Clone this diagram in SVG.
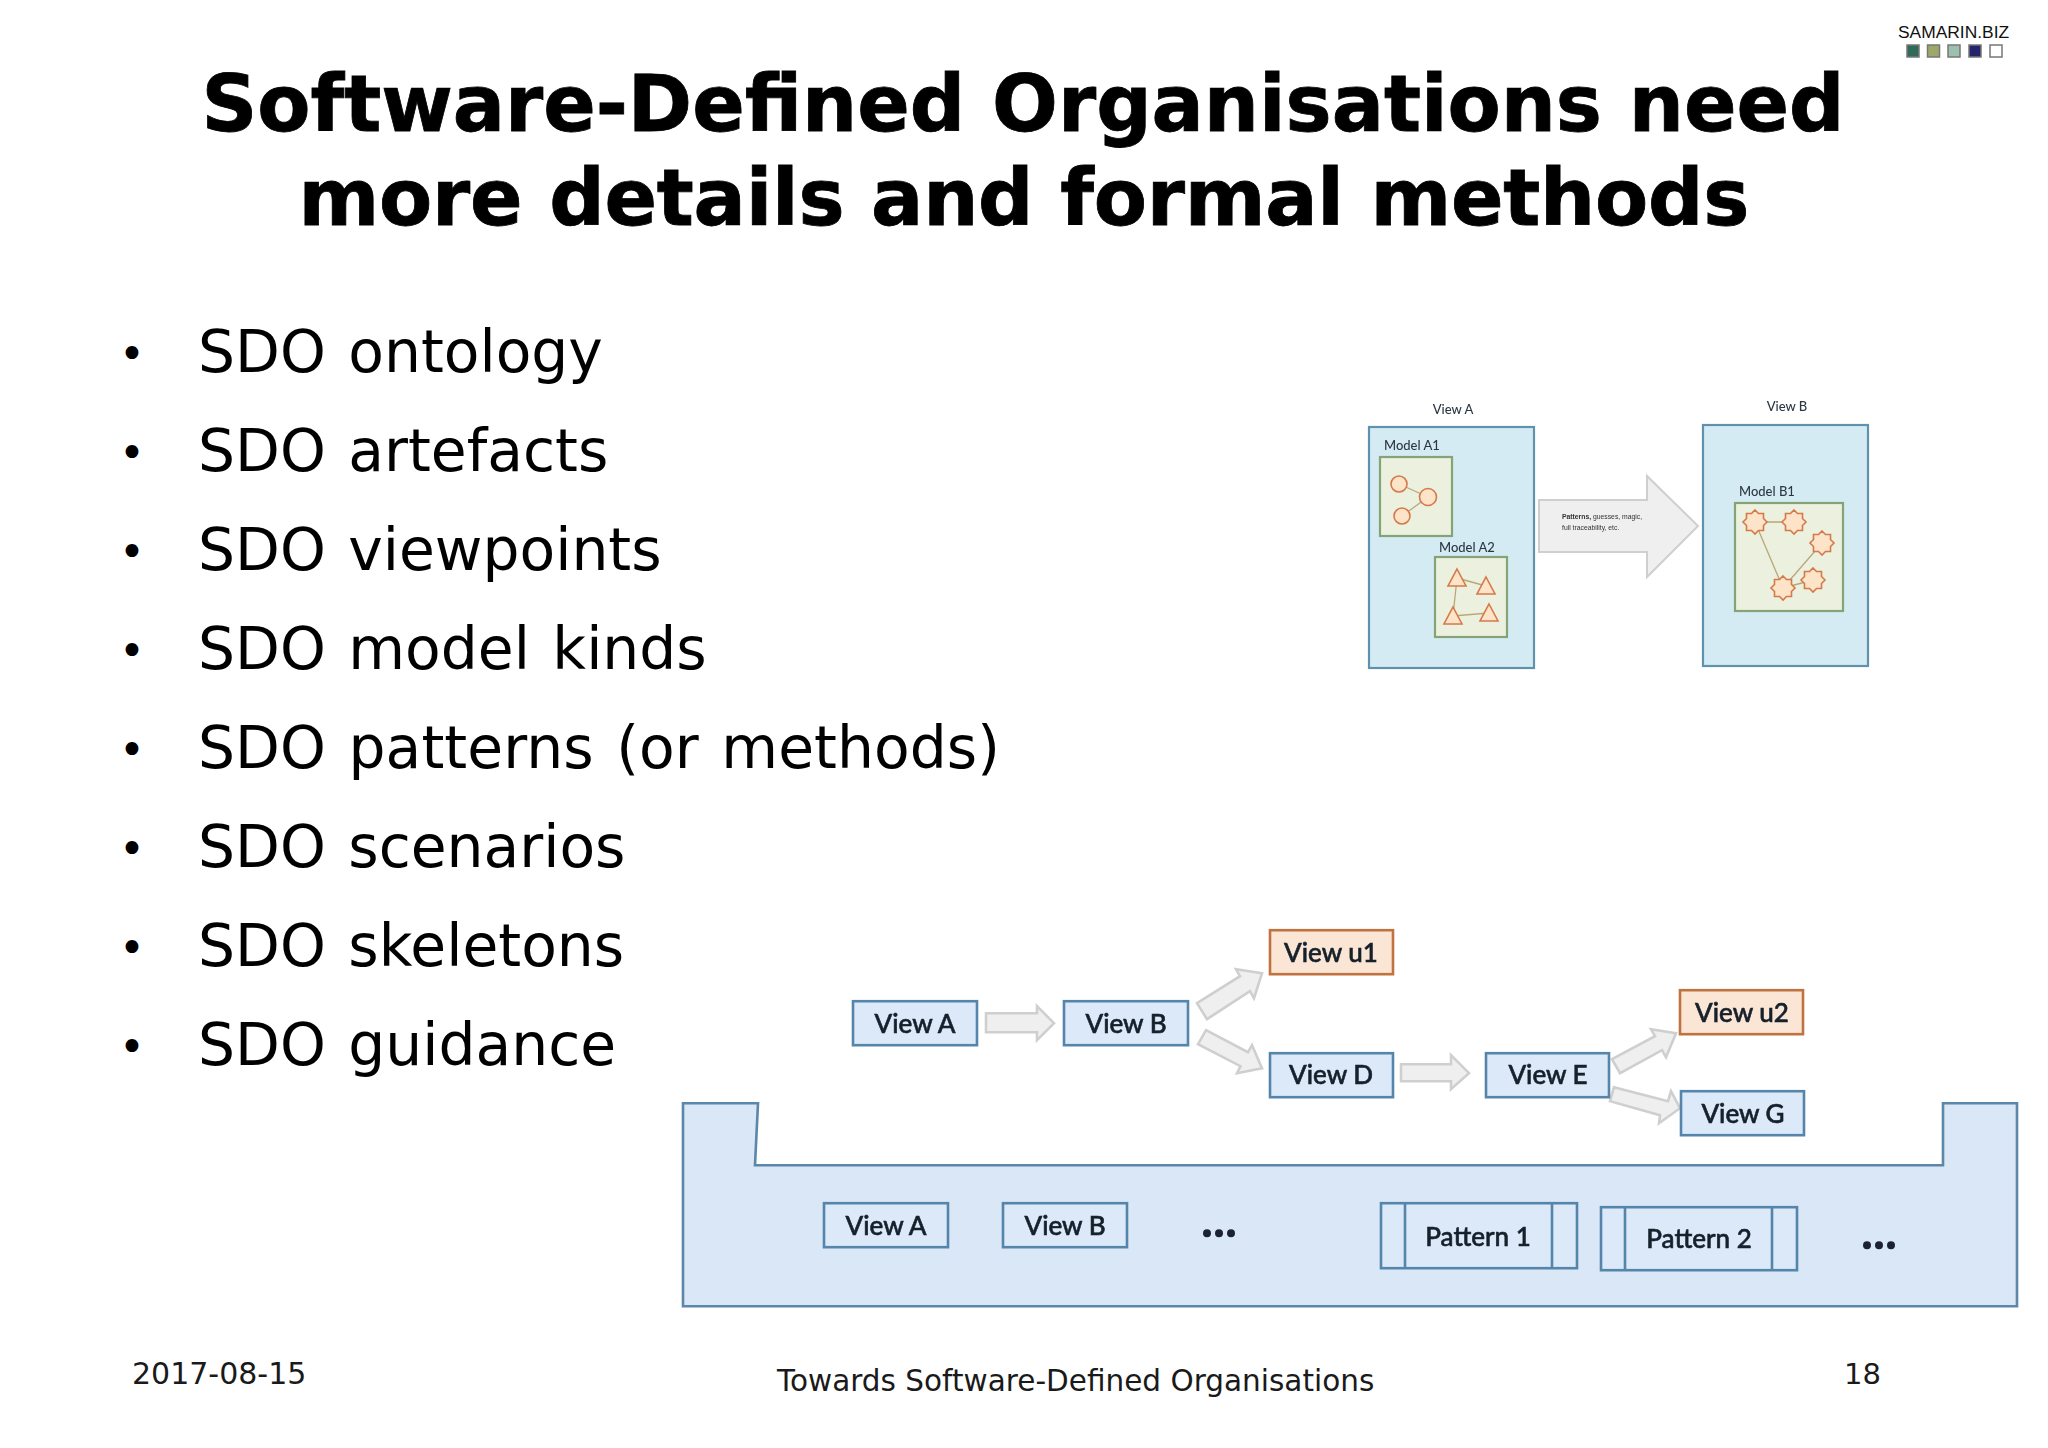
<svg xmlns="http://www.w3.org/2000/svg" width="2048" height="1448" viewBox="0 0 2048 1448">
<defs>
<style>
.title{font:bold 77.500px "DejaVu Sans",sans-serif;fill:#000;text-anchor:middle;stroke:#000;stroke-width:.8}
.bul{font:58.300px "DejaVu Sans",sans-serif;fill:#000;word-spacing:4px}
.dotb{font:44px "DejaVu Sans",sans-serif;fill:#000}
.foot{font:30px "DejaVu Sans",sans-serif;fill:#1a1a1a}
.box{fill:#dbe9f8;stroke:#5585ab;stroke-width:2.600}
.ubox{fill:#fbe5d4;stroke:#c0733f;stroke-width:2.600}
.lbl{font:500 26px Lato,"Liberation Sans",sans-serif;fill:#14202c;stroke:#14202c;stroke-width:.6;text-anchor:middle}
.arr{fill:#efefef;stroke:#cfcfcf;stroke-width:2.600}
.view{fill:#d5ebf3;stroke:#5f93ad;stroke-width:2.200}
.model{fill:#ebf1de;stroke:#84a377;stroke-width:2.200}
.small{font:500 13px Lato,"Liberation Sans",sans-serif;fill:#2c3844}
.shp{fill:#fde3c8;stroke:#d5794a;stroke-width:1.600}
.lnk{stroke:#b9a77a;stroke-width:1.300;fill:none}
.sw{stroke:#777;stroke-width:1.500}
.dot{fill:#1a2430}
</style>
<filter id="soft" x="-5%" y="-5%" width="110%" height="110%"><feGaussianBlur stdDeviation="0.6"/></filter>
<filter id="soft2" x="-5%" y="-5%" width="110%" height="110%"><feGaussianBlur stdDeviation="0.5"/></filter>
<polygon id="star" points="0,-12 3.5,-8.5 8.5,-8.5 8.5,-3.5 12,0 8.5,3.5 8.5,8.5 3.5,8.5 0,12 -3.5,8.5 -8.5,8.5 -8.5,3.5 -12,0 -8.5,-3.5 -8.5,-8.5 -3.5,-8.5"/>
<polygon id="tri" points="0,-9 9,8 -9,8"/>
</defs>
<rect width="2048" height="1448" fill="#fff"/>
<g id="logo">
<text x="1898" y="38" font-family="Liberation Sans, sans-serif" font-size="17.400" fill="#111">SAMARIN.BIZ</text>
<rect class="sw" x="1907" y="45" width="12" height="12" fill="#2e6b58"/>
<rect class="sw" x="1927.500" y="45" width="12" height="12" fill="#9ca868"/>
<rect class="sw" x="1948" y="45" width="12" height="12" fill="#9cc0b0"/>
<rect class="sw" x="1969" y="45" width="12" height="12" fill="#24246a"/>
<rect class="sw" x="1990" y="45" width="12" height="12" fill="#fff"/>
</g>
<g id="title">
<text class="title" x="1023" y="131" textLength="1643">Software-Defined Organisations need</text>
<text class="title" x="1024" y="225" textLength="1451">more details and formal methods</text>
</g>
<g id="bullets">
<text class="dotb" x="119" y="369">•</text><text class="bul" x="198" y="372">SDO ontology</text>
<text class="dotb" x="119" y="468">•</text><text class="bul" x="198" y="471">SDO artefacts</text>
<text class="dotb" x="119" y="567">•</text><text class="bul" x="198" y="570">SDO viewpoints</text>
<text class="dotb" x="119" y="666">•</text><text class="bul" x="198" y="669">SDO model kinds</text>
<text class="dotb" x="119" y="765">•</text><text class="bul" x="198" y="768" textLength="802">SDO patterns (or methods)</text>
<text class="dotb" x="119" y="864">•</text><text class="bul" x="198" y="867">SDO scenarios</text>
<text class="dotb" x="119" y="963">•</text><text class="bul" x="198" y="966">SDO skeletons</text>
<text class="dotb" x="119" y="1062">•</text><text class="bul" x="198" y="1065">SDO guidance</text>
</g>
<g id="top-diagram" filter="url(#soft)" transform="translate(0,1)">
<g id="viewA-panel">
<text class="small" x="1453" y="413" text-anchor="middle">View A</text>
<rect class="view" x="1369" y="426" width="165" height="241"/>
<text class="small" x="1384" y="449">Model A1</text>
<rect class="model" x="1380" y="456" width="72" height="79"/>
<path class="lnk" d="M1399,483L1428,496M1402,515L1428,496"/>
<g class="shp"><circle cx="1399" cy="483" r="8"/><circle cx="1428" cy="496" r="8.500"/><circle cx="1402" cy="515" r="8"/></g>
<text class="small" x="1439" y="551">Model A2</text>
<rect class="model" x="1435" y="556" width="72" height="80"/>
<path class="lnk" d="M1457,577L1486,585M1457,577L1453,615L1489,612"/>
<g class="shp"><use href="#tri" x="1457" y="577"/><use href="#tri" x="1486" y="585"/><use href="#tri" x="1453" y="615"/><use href="#tri" x="1489" y="612"/></g>
</g>
<g id="viewB-panel">
<text class="small" x="1787" y="410" text-anchor="middle">View B</text>
<rect class="view" x="1703" y="424" width="165" height="241"/>
<text class="small" x="1739" y="495">Model B1</text>
<rect class="model" x="1735" y="502" width="108" height="108"/>
<path class="lnk" d="M1755,521L1794,521M1755,521L1783,587L1822,542M1783,587L1813,579"/>
<g class="shp"><use href="#star" x="1755" y="521"/><use href="#star" x="1794" y="521"/><use href="#star" x="1822" y="542"/><use href="#star" x="1813" y="579"/><use href="#star" x="1783" y="587"/></g>
</g>
<g id="top-connector">
<polygon points="1539,499 1647,499 1647,475 1698,525 1647,576 1647,551 1539,551" fill="#efefef" stroke="#cfcfcf" stroke-width="2"/>
<text x="1562" y="518" font-family="Liberation Sans, sans-serif" font-size="6.800" fill="#333"><tspan font-weight="bold">Patterns,</tspan> guesses, magic,</text>
<text x="1562" y="529" font-family="Liberation Sans, sans-serif" font-size="6.800" fill="#333">full traceability, etc.</text>
</g>
</g>
<g id="bottom-diagram" filter="url(#soft2)" transform="translate(0,1.200)">
<g id="connectors">
<polygon class="arr" points="986,1012 1037,1012 1037,1005 1054,1022 1037,1039 1037,1031 986,1031"/>
<polygon class="arr" points="1197,1002 1240,975 1236,968 1262,972 1254,997 1250,990 1207,1018"/>
<polygon class="arr" points="1206,1029 1248,1051 1252,1044 1262,1067 1237,1072 1240.500,1065 1198,1043"/>
<polygon class="arr" points="1401,1063 1451,1063 1451,1054 1469,1072 1451,1088 1451,1080 1401,1080"/>
<polygon class="arr" points="1612,1058 1655,1035 1651,1028 1676,1032 1666,1056 1662,1049 1620,1072"/>
<polygon class="arr" points="1614,1086 1668,1100 1671,1090 1680,1107 1659,1122 1660,1114 1610,1100"/>
</g>
<g id="container">
<path d="M683,1102H758L755,1164H1943V1102H2017V1305H683Z" fill="#dae7f6" stroke="#5b87a8" stroke-width="2.600"/>
</g>
<g id="n-viewA"><rect class="box" x="853" y="1000" width="124" height="44"/><text class="lbl" x="915" y="1032">View A</text></g>
<g id="n-viewB"><rect class="box" x="1064" y="1000" width="124" height="44"/><text class="lbl" x="1126" y="1032">View B</text></g>
<g id="n-viewU1"><rect class="ubox" x="1270" y="929" width="123" height="44"/><text class="lbl" x="1331" y="961">View u1</text></g>
<g id="n-viewD"><rect class="box" x="1270" y="1052" width="123" height="44"/><text class="lbl" x="1331" y="1083">View D</text></g>
<g id="n-viewE"><rect class="box" x="1486" y="1052" width="123" height="44"/><text class="lbl" x="1548" y="1083">View E</text></g>
<g id="n-viewU2"><rect class="ubox" x="1680" y="989" width="123" height="44"/><text class="lbl" x="1742" y="1021">View u2</text></g>
<g id="n-viewG"><rect class="box" x="1681" y="1090" width="123" height="44"/><text class="lbl" x="1743" y="1122">View G</text></g>
<g id="n-viewA2"><rect class="box" x="824" y="1202" width="124" height="44"/><text class="lbl" x="886" y="1234">View A</text></g>
<g id="n-viewB2"><rect class="box" x="1003" y="1202" width="124" height="44"/><text class="lbl" x="1065" y="1234">View B</text></g>
<g id="n-dots1" class="dot"><circle cx="1207" cy="1232" r="4"/><circle cx="1219" cy="1232" r="4"/><circle cx="1231" cy="1232" r="4"/></g>
<g id="n-pattern1"><rect class="box" x="1381" y="1202" width="196" height="65"/><path d="M1405,1202V1267M1552,1202V1267" fill="none" stroke="#5585ab" stroke-width="2.600"/><text class="lbl" x="1478" y="1245">Pattern 1</text></g>
<g id="n-pattern2"><rect class="box" x="1601" y="1206" width="196" height="63"/><path d="M1625,1206V1269M1772,1206V1269" fill="none" stroke="#5585ab" stroke-width="2.600"/><text class="lbl" x="1699" y="1247">Pattern 2</text></g>
<g id="n-dots2" class="dot"><circle cx="1867" cy="1244" r="4"/><circle cx="1879" cy="1244" r="4"/><circle cx="1891" cy="1244" r="4"/></g>
</g>
<g id="footer">
<text class="foot" x="132" y="1384">2017-08-15</text>
<text class="foot" x="777" y="1391" style="font-size:29.500px">Towards Software-Defined Organisations</text>
<text class="foot" x="1844" y="1384" style="font-size:29px">18</text>
</g>
</svg>
